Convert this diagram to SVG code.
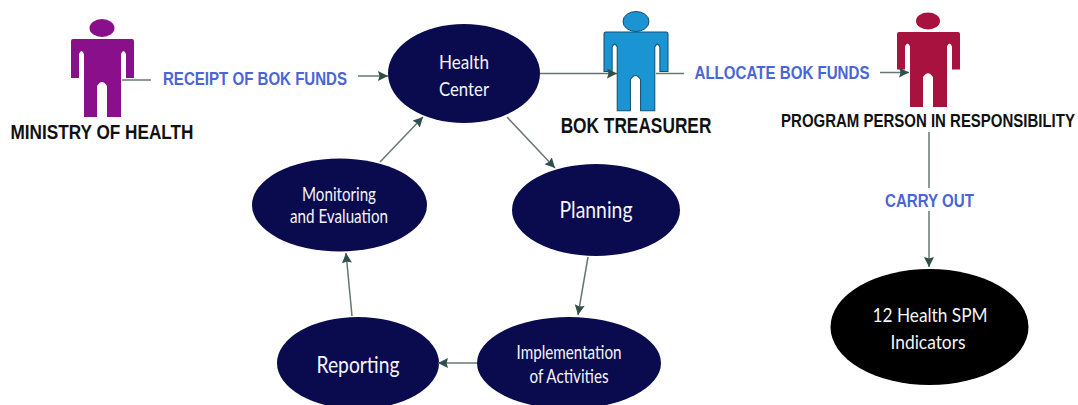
<svg xmlns="http://www.w3.org/2000/svg" width="1078" height="405" viewBox="0 0 1078 405">
<defs>
<marker id="ah" markerUnits="userSpaceOnUse" markerWidth="11" markerHeight="11" refX="10" refY="5" orient="auto"><path d="M0 0L10 5L0 10L1.500 5Z" fill="#2f4f4a"/></marker>
<path id="person" d="M0 2Q0 0 2 0H61Q63 0 63 2V39H55V15Q52.500 9 50 15V78H36V47Q31 39 26 47V78H13V15Q10.500 9 8 15V39H0Z"/>
</defs>
<style>
text{font-family:"Liberation Sans",Arial,sans-serif;text-anchor:middle}
.c{fill:none;stroke:#64786f;stroke-width:1.500}
.a{marker-end:url(#ah)}
.l{fill:#4a66d6;font-weight:700;font-size:18px}
.k{fill:#111;font-weight:700}
.w{fill:#f4f4fa;font-family:Lato,"Liberation Sans",sans-serif;font-size:20px}
.b{font-size:24px}
.n{fill:#0a0b4e}
</style>
<g id="ministry"><ellipse cx="102" cy="28" rx="12.500" ry="9" fill="#8a0f8a"/><use href="#person" x="71" y="39" fill="#8a0f8a"/><text class="k" transform="translate(102 139) scale(1 1.200)" font-size="17.200">MINISTRY OF HEALTH</text></g>
<g id="treasurer"><ellipse cx="636" cy="21.500" rx="13" ry="10" fill="#1a94d2" stroke="#14506f"/><use href="#person" transform="translate(604 32) scale(1.016 1.010)" fill="#1a94d2" stroke="#14506f"/><text class="k" transform="translate(636 133) scale(1 1.260)" font-size="17.300">BOK TREASURER</text></g>
<g id="program"><ellipse cx="928" cy="21" rx="12" ry="8.500" fill="#a8123f"/><use href="#person" transform="translate(897 32) scale(1 .960)" fill="#a8123f"/><text class="k" transform="translate(928 127) scale(1 1.200)" font-size="15">PROGRAM PERSON IN RESPONSIBILITY</text></g>
<g id="health-center"><ellipse class="n" cx="464" cy="73.500" rx="76" ry="49.500"/><text class="w" x="464" y="69" textLength="50" lengthAdjust="spacingAndGlyphs">Health</text><text class="w" x="464" y="96" textLength="50" lengthAdjust="spacingAndGlyphs">Center</text></g>
<g id="planning"><ellipse class="n" cx="596" cy="210" rx="84" ry="46"/><text class="w b" x="596" y="218" textLength="73" lengthAdjust="spacingAndGlyphs">Planning</text></g>
<g id="monitoring"><ellipse class="n" cx="339.500" cy="205" rx="87.500" ry="46.500"/><text class="w" x="339" y="201" textLength="74" lengthAdjust="spacingAndGlyphs">Monitoring</text><text class="w" x="339" y="223" textLength="98" lengthAdjust="spacingAndGlyphs">and Evaluation</text></g>
<g id="reporting"><ellipse class="n" cx="358" cy="363" rx="81" ry="46"/><text class="w b" x="358" y="373" textLength="83" lengthAdjust="spacingAndGlyphs">Reporting</text></g>
<g id="implementation"><ellipse class="n" cx="569" cy="363" rx="92" ry="46"/><text class="w" x="569" y="359" textLength="105" lengthAdjust="spacingAndGlyphs">Implementation</text><text class="w" x="569" y="383" textLength="79" lengthAdjust="spacingAndGlyphs">of Activities</text></g>
<g id="indicators"><ellipse cx="929.500" cy="327" rx="99" ry="58" fill="#000"/><text class="w" x="930" y="322" textLength="115" lengthAdjust="spacingAndGlyphs">12 Health SPM</text><text class="w" x="928" y="349" textLength="75" lengthAdjust="spacingAndGlyphs">Indicators</text></g>
<g id="labels"><text class="l" x="255" y="85" textLength="184" lengthAdjust="spacingAndGlyphs">RECEIPT OF BOK FUNDS</text><text class="l" x="782" y="79" textLength="175" lengthAdjust="spacingAndGlyphs">ALLOCATE BOK FUNDS</text><text class="l" x="929.500" y="207" textLength="89" lengthAdjust="spacingAndGlyphs">CARRY OUT</text></g>
<g id="connectors">
<path class="c" d="M122 80H151"/>
<path class="c a" d="M358 76H388"/>
<path class="c a" d="M540 73.500H617"/>
<path class="c" d="M656 73.500H684"/>
<path class="c a" d="M880 72.500H909"/>
<path class="c a" d="M507 117L555 168"/>
<path class="c a" d="M588 257L578 315"/>
<path class="c a" d="M477 363H438"/>
<path class="c a" d="M352 316L346 253"/>
<path class="c a" d="M380 162L423 117"/>
<path class="c" d="M929 132V188"/>
<path class="c a" d="M929 211V267"/>
</g>
</svg>
